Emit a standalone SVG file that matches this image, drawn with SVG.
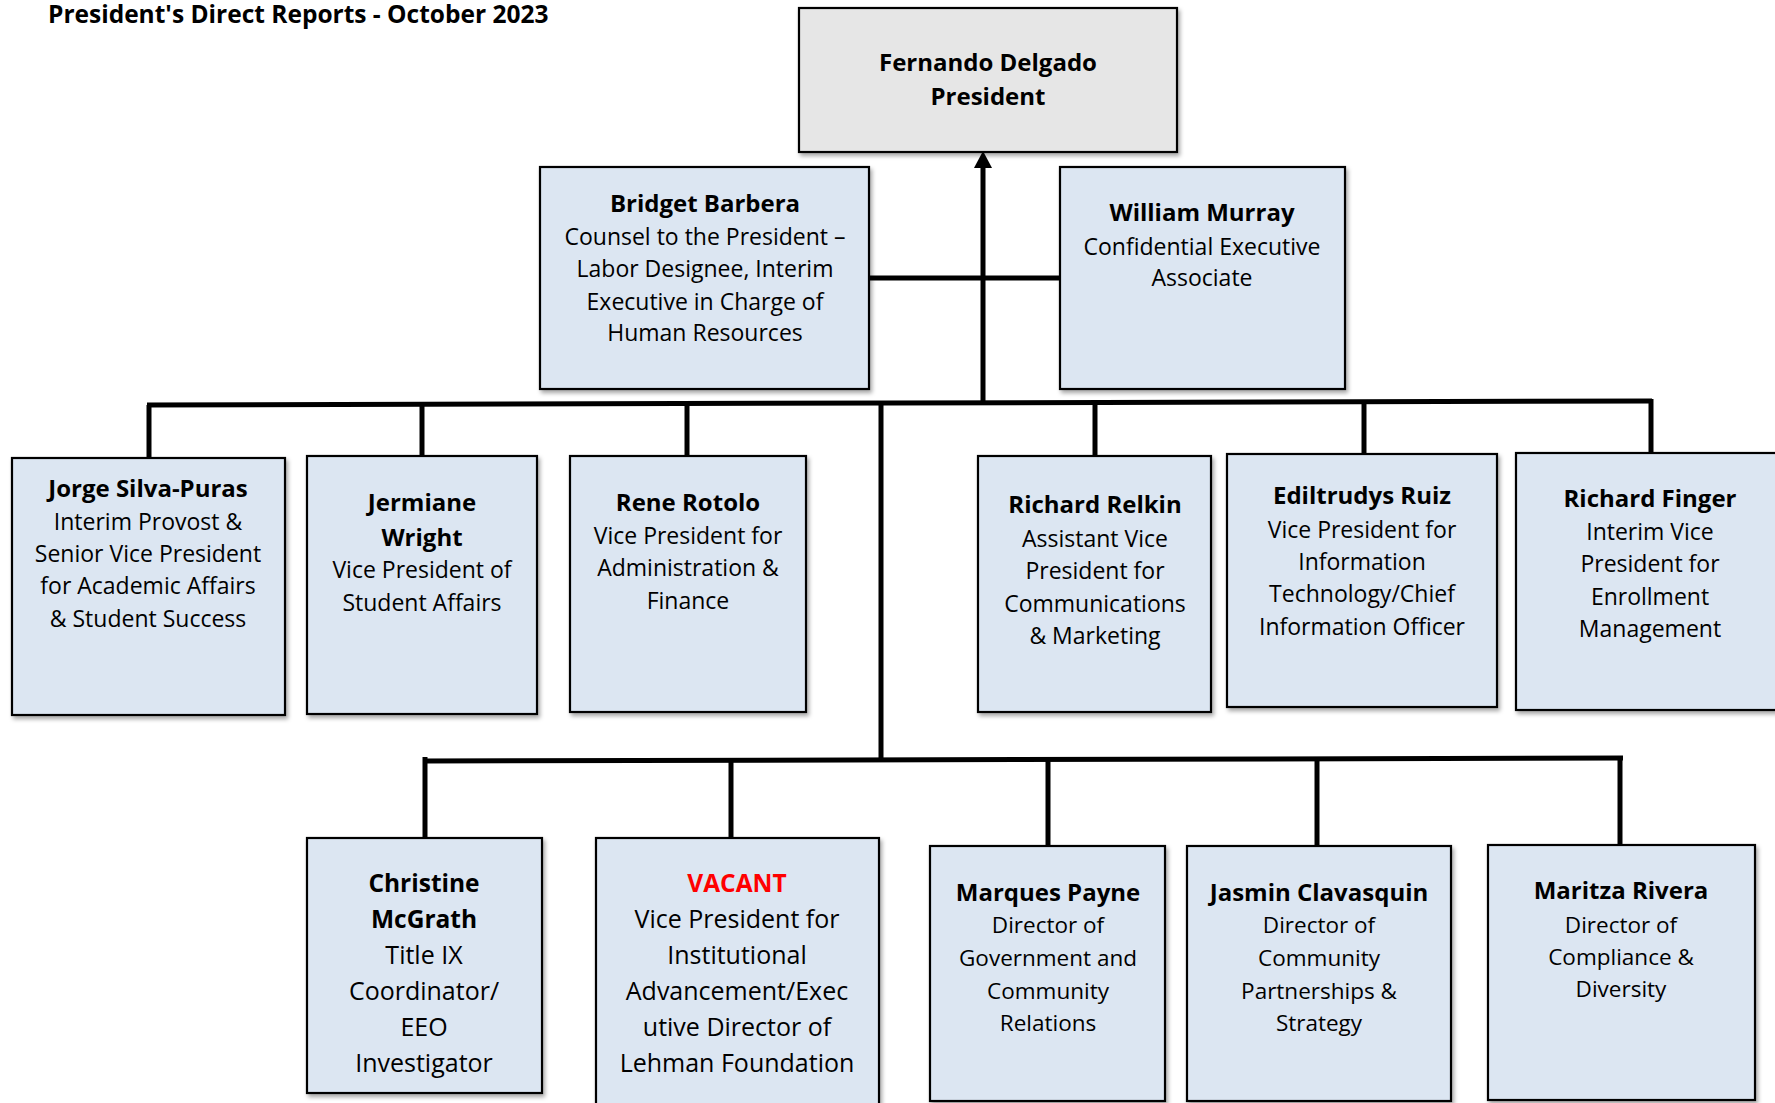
<svg xmlns="http://www.w3.org/2000/svg" width="1775" height="1103" viewBox="0 0 1775 1103">
<style>
  .box { fill: #dce6f2; stroke: #000; stroke-width: 2.2; filter: url(#sh); }
  .pres { fill: #e6e6e6; stroke: #000; stroke-width: 2.2; filter: url(#sh); }
  .t { font-family: "Open Sans", "Noto Sans", sans-serif; fill: #000; text-anchor: middle; }
  .n { font-weight: bold; font-size: 24px; }
  .r { font-size: 23px; }
  .n2 { font-weight: bold; font-size: 24.5px; }
  .r2 { font-size: 25px; }
  .r3 { font-size: 22.5px; }
  .conn { stroke: #000; stroke-width: 5; fill: none; }
  .title { font-family: "Open Sans", "Noto Sans", sans-serif; font-weight: bold; font-size: 24.5px; fill: #000; }
</style>
<defs>
  <filter id="sh" x="-10%" y="-10%" width="125%" height="125%">
    <feDropShadow dx="2" dy="3" stdDeviation="2" flood-color="#000" flood-opacity="0.35"/>
  </filter>
  <marker id="arr" viewBox="0 0 18 18" refX="8" refY="9" markerWidth="18" markerHeight="18" markerUnits="userSpaceOnUse" orient="auto">
    <path d="M0,0 L17,9 L0,18 z" fill="#000"/>
  </marker>
</defs>
<rect width="1775" height="1103" fill="#fff"/>
<text class="title" x="48" y="23">President's Direct Reports - October 2023</text>

<g id="connectors">
  <path class="conn" d="M983,403 L983,160" marker-end="url(#arr)"/>
  <path class="conn" d="M869,278 L1060,278"/>
  <path class="conn" d="M147,405 L1652,401"/>
  <path class="conn" d="M149,405 L149,458"/>
  <path class="conn" d="M422,405 L422,456"/>
  <path class="conn" d="M687,404 L687,456"/>
  <path class="conn" d="M1095,403 L1095,456"/>
  <path class="conn" d="M1364,402 L1364,454"/>
  <path class="conn" d="M1651,399 L1651,453"/>
  <path class="conn" d="M881,403 L881,761"/>
  <path class="conn" d="M424,761 L1623,758"/>
  <path class="conn" d="M425,757 L425,838"/>
  <path class="conn" d="M731,761 L731,838"/>
  <path class="conn" d="M1048,757 L1048,846"/>
  <path class="conn" d="M1317,760 L1317,846"/>
  <path class="conn" d="M1620,756 L1620,845"/>
</g>

<g id="president">
  <rect class="pres" x="799" y="8" width="378" height="144"/>
  <text class="t n" x="988" y="71">Fernando Delgado</text>
  <text class="t n" x="988" y="105">President</text>
</g>

<g id="barbera">
  <rect class="box" x="540" y="167" width="329" height="222"/>
  <text class="t n" x="705" y="212">Bridget Barbera</text>
  <text class="t r" x="705" y="245">Counsel to the President –</text>
  <text class="t r" x="705" y="277">Labor Designee, Interim</text>
  <text class="t r" x="705" y="310">Executive in Charge of</text>
  <text class="t r" x="705" y="341">Human Resources</text>
</g>

<g id="murray">
  <rect class="box" x="1060" y="167" width="285" height="222"/>
  <text class="t n" x="1202" y="221">William Murray</text>
  <text class="t r" x="1202" y="255">Confidential Executive</text>
  <text class="t r" x="1202" y="286">Associate</text>
</g>

<g id="silva-puras">
  <rect class="box" x="12" y="458" width="273" height="257"/>
  <text class="t n" x="148" y="497">Jorge Silva-Puras</text>
  <text class="t r" x="148" y="530">Interim Provost &amp;</text>
  <text class="t r" x="148" y="562">Senior Vice President</text>
  <text class="t r" x="148" y="594">for Academic Affairs</text>
  <text class="t r" x="148" y="627">&amp; Student Success</text>
</g>

<g id="wright">
  <rect class="box" x="307" y="456" width="230" height="258"/>
  <text class="t n" x="422" y="511">Jermiane</text>
  <text class="t n" x="422" y="546">Wright</text>
  <text class="t r" x="422" y="578">Vice President of</text>
  <text class="t r" x="422" y="611">Student Affairs</text>
</g>

<g id="rotolo">
  <rect class="box" x="570" y="456" width="236" height="256"/>
  <text class="t n" x="688" y="511">Rene Rotolo</text>
  <text class="t r" x="688" y="544">Vice President for</text>
  <text class="t r" x="688" y="576">Administration &amp;</text>
  <text class="t r" x="688" y="609">Finance</text>
</g>

<g id="relkin">
  <rect class="box" x="978" y="456" width="233" height="256"/>
  <text class="t n" x="1095" y="513">Richard Relkin</text>
  <text class="t r" x="1095" y="547">Assistant Vice</text>
  <text class="t r" x="1095" y="579">President for</text>
  <text class="t r" x="1095" y="612">Communications</text>
  <text class="t r" x="1095" y="644">&amp; Marketing</text>
</g>

<g id="ruiz">
  <rect class="box" x="1227" y="454" width="270" height="253"/>
  <text class="t n" x="1362" y="504">Ediltrudys Ruiz</text>
  <text class="t r" x="1362" y="538">Vice President for</text>
  <text class="t r" x="1362" y="570">Information</text>
  <text class="t r" x="1362" y="602">Technology/Chief</text>
  <text class="t r" x="1362" y="635">Information Officer</text>
</g>

<g id="finger">
  <rect class="box" x="1516" y="453" width="268" height="257"/>
  <text class="t n" x="1650" y="507">Richard Finger</text>
  <text class="t r" x="1650" y="540">Interim Vice</text>
  <text class="t r" x="1650" y="572">President for</text>
  <text class="t r" x="1650" y="605">Enrollment</text>
  <text class="t r" x="1650" y="637">Management</text>
</g>

<g id="mcgrath">
  <rect class="box" x="307" y="838" width="235" height="255"/>
  <text class="t n2" x="424" y="892">Christine</text>
  <text class="t n2" x="424" y="928">McGrath</text>
  <text class="t r2" x="424" y="964">Title IX</text>
  <text class="t r2" x="424" y="1000">Coordinator/</text>
  <text class="t r2" x="424" y="1036">EEO</text>
  <text class="t r2" x="424" y="1072">Investigator</text>
</g>

<g id="vacant">
  <rect class="box" x="596" y="838" width="283" height="280"/>
  <text class="t n2" x="737" y="892" style="fill:#ff0000">VACANT</text>
  <text class="t r2" x="737" y="928">Vice President for</text>
  <text class="t r2" x="737" y="964">Institutional</text>
  <text class="t r2" x="737" y="1000">Advancement/Exec</text>
  <text class="t r2" x="737" y="1036">utive Director of</text>
  <text class="t r2" x="737" y="1072">Lehman Foundation</text>
</g>

<g id="payne">
  <rect class="box" x="930" y="846" width="235" height="255"/>
  <text class="t n" x="1048" y="901">Marques Payne</text>
  <text class="t r3" x="1048" y="933">Director of</text>
  <text class="t r3" x="1048" y="966">Government and</text>
  <text class="t r3" x="1048" y="999">Community</text>
  <text class="t r3" x="1048" y="1031">Relations</text>
</g>

<g id="clavasquin">
  <rect class="box" x="1187" y="846" width="264" height="255"/>
  <text class="t n" x="1319" y="901">Jasmin Clavasquin</text>
  <text class="t r3" x="1319" y="933">Director of</text>
  <text class="t r3" x="1319" y="966">Community</text>
  <text class="t r3" x="1319" y="999">Partnerships &amp;</text>
  <text class="t r3" x="1319" y="1031">Strategy</text>
</g>

<g id="rivera">
  <rect class="box" x="1488" y="845" width="267" height="255"/>
  <text class="t n" x="1621" y="899">Maritza Rivera</text>
  <text class="t r3" x="1621" y="933">Director of</text>
  <text class="t r3" x="1621" y="965">Compliance &amp;</text>
  <text class="t r3" x="1621" y="997">Diversity</text>
</g>
</svg>
